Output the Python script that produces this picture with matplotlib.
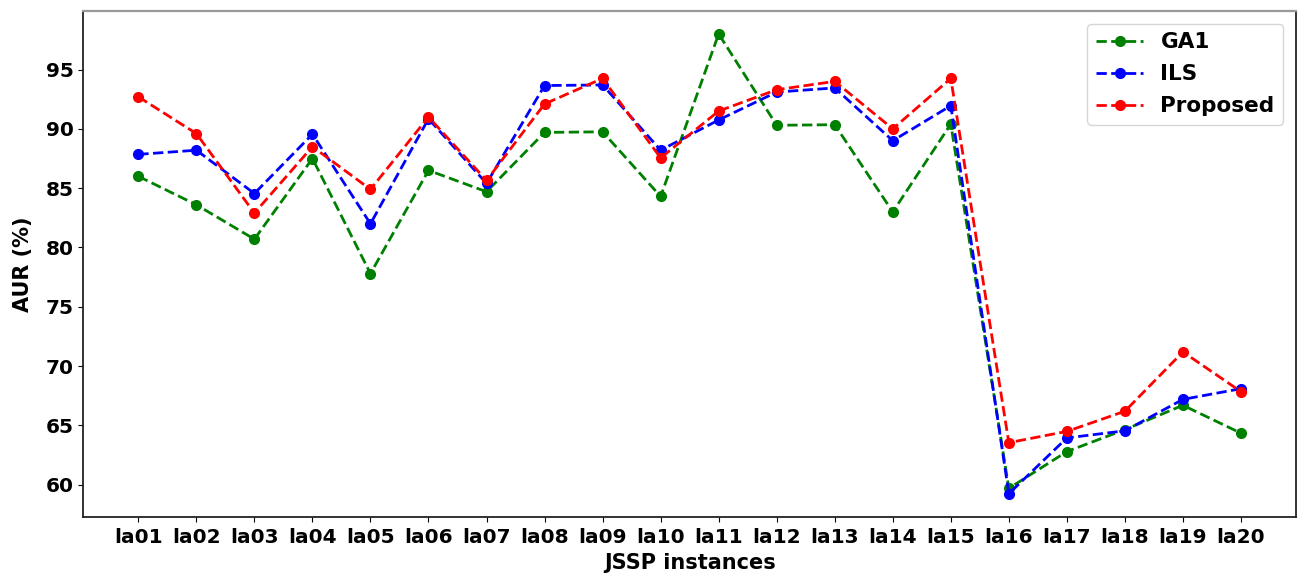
import matplotlib
matplotlib.use("Agg")
import matplotlib.pyplot as plt

instances = ["la01", "la02", "la03", "la04", "la05", "la06", "la07", "la08", "la09", "la10",
             "la11", "la12", "la13", "la14", "la15", "la16", "la17", "la18", "la19", "la20"]
ga1 = [86.0, 83.6, 80.7, 87.5, 77.8, 86.5, 84.7, 89.7, 89.75, 84.3,
       98.0, 90.3, 90.35, 83.0, 90.4, 59.7, 62.8, 64.65, 66.7, 64.35]
ils = [87.85, 88.2, 84.55, 89.55, 82.0, 90.85, 85.4, 93.65, 93.7, 88.2,
       90.75, 93.1, 93.45, 89.0, 91.95, 59.25, 63.95, 64.55, 67.2, 68.1]
proposed = [92.7, 89.6, 82.9, 88.5, 84.9, 91.0, 85.65, 92.1, 94.25, 87.55,
            91.5, 93.3, 94.0, 90.0, 94.25, 63.55, 64.5, 66.2, 71.2, 67.85]

fig = plt.figure(figsize=(13, 5.76), dpi=100)
ax = fig.add_axes([0.064, 0.103, 0.933, 0.878])
x = list(range(len(instances)))
ax.plot(x, ga1, '--o', color='green', lw=2, ms=7, label='GA1')
ax.plot(x, ils, '--o', color='blue', lw=2, ms=7, label='ILS')
ax.plot(x, proposed, '--o', color='red', lw=2, ms=7, label='Proposed')

ax.set_xticks(x)
ax.set_xticklabels(instances)
ax.set_yticks([60, 65, 70, 75, 80, 85, 90, 95])
for lab in ax.get_xticklabels() + ax.get_yticklabels():
    lab.set_fontweight('bold')
    lab.set_fontsize(14.5)
ax.tick_params(axis='x', pad=5)
ax.set_xlabel("JSSP instances", fontsize=15, fontweight='bold', labelpad=4)
ax.set_ylabel("AUR (%)", fontsize=15, fontweight='bold', labelpad=9)
ax.spines['top'].set_color('#999999')
ax.spines['top'].set_linewidth(1.6)
for s in ['left', 'bottom', 'right']:
    ax.spines[s].set_color('#222222')
    ax.spines[s].set_linewidth(1.3)
leg = ax.legend(loc='upper right', prop={'weight': 'bold', 'size': 15.5},
                handlelength=2.2, labelspacing=0.55, borderaxespad=0.6)
fig.savefig("out.png", dpi=100)
